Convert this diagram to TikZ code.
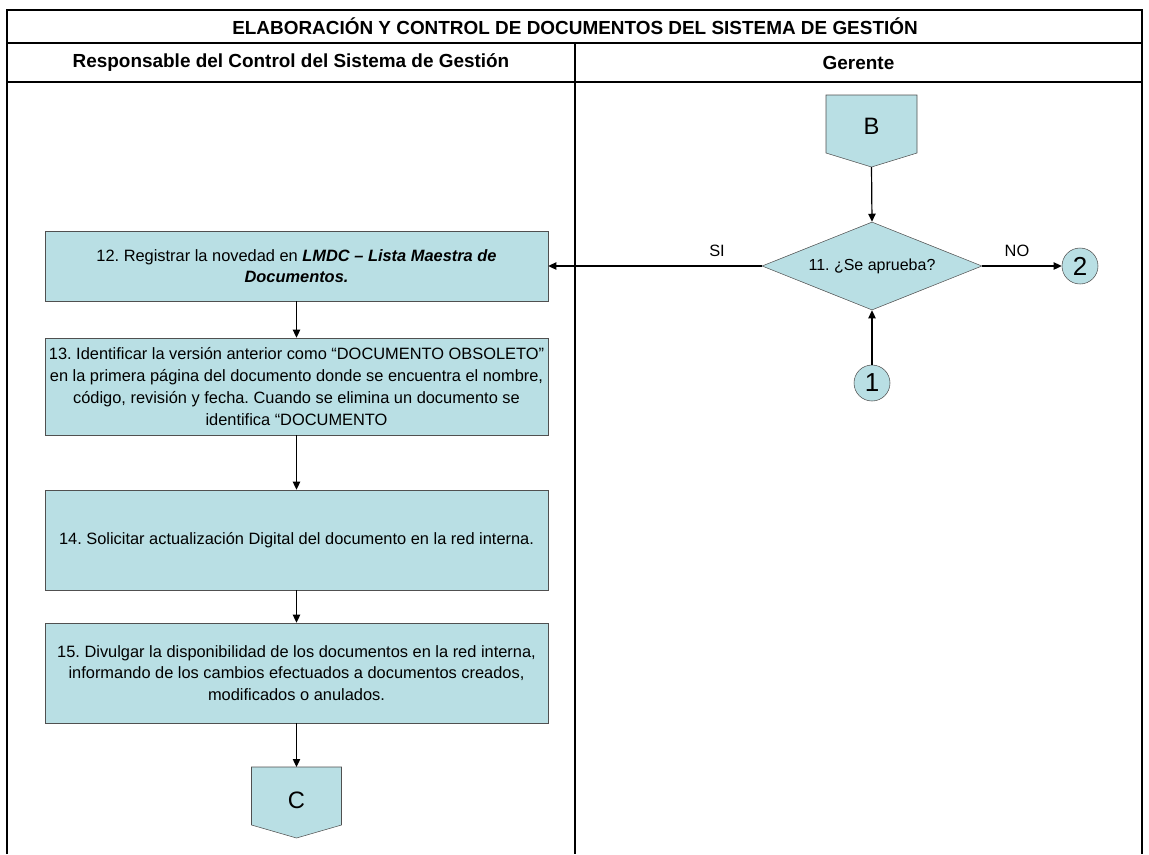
\documentclass[tikz,border=0pt]{standalone}
\usepackage{fontspec}
\setmainfont{Liberation Sans}
\usetikzlibrary{arrows.meta}
\usetikzlibrary{scopes}
\usetikzlibrary{shapes.geometric}

\begin{document}
\frenchspacing
\begin{tikzpicture}[x=0.75pt,y=-0.75pt]

\definecolor{celeste}{RGB}{185,223,228};
\definecolor{borde}{RGB}{80,80,80};

\useasboundingbox (0,0) rectangle (1149,854);

%frame and lanes
{[line width=1.5pt]
	\draw (7,854) -- (7,10) -- (1142,10) -- (1142,854);
	\draw (7,43) -- (1142,43);
	\draw (7,82) -- (1142,82);
	\draw (575,43) -- (575,854);
}

{[font=\bfseries\fontsize{14.2}{17}\selectfont]
	\node (titulo) at (575,26.5) {ELABORACIÓN Y CONTROL DE DOCUMENTOS DEL SISTEMA DE GESTIÓN};
	\node (resp) at (291,62.5) {Responsable del Control del Sistema de Gestión};
	\node (ger) at (858.5,62.5) {Gerente};
}

%draw boxes
{[every node/.style={draw=borde,fill=celeste,align=center,minimum width=377.25pt,inner sep=2pt,
		font=\fontsize{12.3}{16.3}\selectfont}]
	\node[minimum height=52.5pt] (p12) at (296.5,266) {12. Registrar la novedad en \textbf{\textit{LMDC – Lista Maestra de}}\\\textbf{\textit{Documentos.}}};
	\node[minimum height=72.75pt] (p13) at (296.5,386.5) {13. Identificar la versión anterior como “DOCUMENTO OBSOLETO”\\en la primera página del documento donde se encuentra el nombre,\\código, revisión y fecha. Cuando se elimina un documento se\\identifica “DOCUMENTO};
	\node[minimum height=75pt] (p14) at (296.5,540) {14. Solicitar actualización Digital del documento en la red interna.};
	\node[minimum height=75pt] (p15) at (296.5,673) {15. Divulgar la disponibilidad de los documentos en la red interna,\\informando de los cambios efectuados a documentos creados,\\modificados o anulados.};
}

%decision and connectors
\node[diamond,aspect=2.5,draw=borde,fill=celeste,inner sep=0pt,minimum width=165pt,minimum height=66pt,
	font=\fontsize{12}{14}\selectfont] (d11) at (872,266) {11. ¿Se aprueba?};

{[every node/.style={draw=borde,fill=celeste,circle,minimum size=27pt,inner sep=0pt,font=\fontsize{19.5}{20}\selectfont}]
	\node (c1) at (872,383) {1};
	\node (c2) at (1080,266) {2};
}

{[fill=celeste,draw=borde]
	\filldraw (826,95) -- (917,95) -- (917,153) -- (871.5,167) -- (826,153) -- cycle;
	\node[font=\fontsize{17.8}{20}\selectfont] (B) at (871.5,126) {B};
	\coordinate (Bpt) at (871.5,167);

	\filldraw (251.5,767) -- (341.5,767) -- (341.5,825) -- (296.5,838) -- (251.5,825) -- cycle;
	\node[font=\fontsize{17.8}{20}\selectfont] (C) at (296.5,800) {C};
	\coordinate (Ctop) at (296.5,767);
}

{[font=\fontsize{12.3}{14}\selectfont]
	\node (si) at (717,251) {SI};
	\node (no) at (1017,251) {NO};
}

{[-{Triangle[length=6pt,width=5.5pt]},line width=0.9pt]
	\draw (Bpt) -- (d11.north);
	\draw (d11.west) -- (p12.east);
	\draw (d11.east) -- (c2.west);
	\draw (c1.north) -- (d11.south);
	\draw (p12.south) -- (p13.north);
	\draw (p13.south) -- (p14.north);
	\draw (p14.south) -- (p15.north);
	\draw (p15.south) -- (Ctop);
}

\end{tikzpicture}
\end{document}
